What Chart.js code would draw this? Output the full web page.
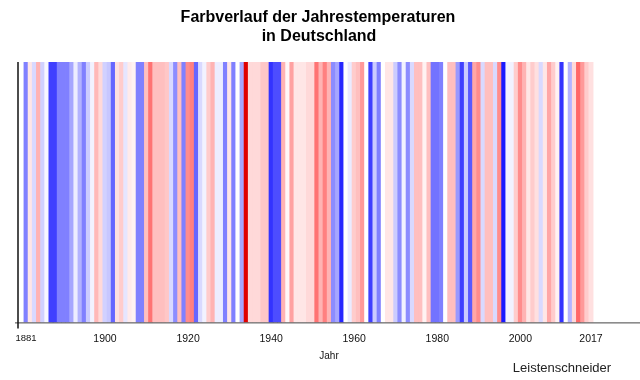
<!DOCTYPE html>
<html><head><meta charset="utf-8">
<script src="https://cdn.jsdelivr.net/npm/chart.js@4"></script>
<style>html,body{margin:0;padding:0;background:#fff}#wrap{width:640px;height:380px}</style>
</head><body><div id="wrap"><canvas id="c" width="640" height="380"></canvas></div>
<script>
const firstYear = 1881;
// Temperature anomaly (relative colour intensity) per year, read from the stripes
const anomalies = [
  -0.5, 0.1,-0.15, 0.3,-0.18,-0.03,-0.75,-0.75,-0.5,-0.5,          // 1881-1890
  -0.5,-0.35,-0.07,-0.3,-0.5,-0.2,-0.05, 0.28, 0.15,-0.18,          // 1891-1900
  -0.22,-0.6, 0.12, 0.2,-0.1, 0.08, 0.05,-0.5,-0.5, 0.25,           // 1901-1910
   0.55, 0.25, 0.25, 0.25, 0.22,-0.15,-0.45, 0.25,-0.5, 0.45,       // 1911-1920
   0.5,-0.6,-0.15,-0.05, 0.2, 0.3,-0.07,-0.07,-0.5, 0.1,            // 1921-1930
  -0.5, 0.0,-0.35, 1.12, 0.15, 0.15, 0.15, 0.22, 0.22,-0.8,         // 1931-1940
  -0.7,-0.7, 0.3, 0.03, 0.37, 0.1, 0.1, 0.1, 0.15, 0.15,            // 1941-1950
   0.55, 0.3, 0.5, 0.3,-0.45,-0.35,-0.85, 0.0,-0.08, 0.2,           // 1951-1960
   0.25, 0.4, 0.0,-0.75,-0.2,-0.5, 0.0, 0.1, 0.1,-0.2,              // 1961-1970
  -0.45,-0.05,-0.45,-0.15, 0.25, 0.25, 0.05, 0.25,-0.55,-0.55,      // 1971-1980
  -0.5, 0.0, 0.25, 0.25,-0.4,-0.75,-0.2,-0.65, 0.35, 0.45,          // 1981-1990
  -0.15, 0.25, 0.25,-0.15, 0.45,-0.9,-0.05,-0.05, 0.2, 0.45,        // 1991-2000
   0.3, 0.1, 0.2, 0.12,-0.15, 0.1, 0.35, 0.2, 0.05,-0.8,            // 2001-2010
   0.0,-0.3, 0.15, 0.6, 0.4, 0.2, 0.12                              // 2011-2017
];
const tickYears = [1881, 1900, 1920, 1940, 1960, 1980, 2000, 2017];
const titleLines = ['Farbverlauf der Jahrestemperaturen', 'in Deutschland'];
const axisTitle = 'Jahr';
const author = 'Leistenschneider';

function stripeColor(v) {
  if (v < 0) {
    const k = Math.round(255 * (1 + Math.max(v, -1)));
    return `rgb(${k},${k},255)`;
  }
  if (v <= 1) {
    const k = Math.round(255 * (1 - v));
    return `rgb(255,${k},${k})`;
  }
  const r = Math.round(255 * (2 - v));
  return `rgb(${r},0,0)`;
}

const points = anomalies.map((a, i) => ({ x: firstYear + i, y: 1 }));
const colors = anomalies.map(stripeColor);
const FONT = '"Liberation Sans", Arial, sans-serif';

const deco = {
  id: 'deco',
  afterDraw(chart) {
    const { ctx, chartArea: a } = chart;
    ctx.save();
    // x axis line slightly extended to the left
    ctx.strokeStyle = '#444';
    ctx.lineWidth = 1;
    ctx.beginPath();
    ctx.moveTo(a.left - 3, a.bottom + 0.5);
    ctx.lineTo(a.right, a.bottom + 0.5);
    ctx.stroke();
    // y axis line
    ctx.strokeStyle = '#111';
    ctx.lineWidth = 1.5;
    ctx.beginPath();
    ctx.moveTo(a.left, a.top);
    ctx.lineTo(a.left, a.bottom + 6);
    ctx.stroke();
    ctx.textAlign = 'center';
    ctx.textBaseline = 'middle';
    // title
    ctx.fillStyle = '#000';
    ctx.font = 'bold 16px ' + FONT;
    ctx.fillText(titleLines[0], 318, 18);
    ctx.fillText(titleLines[1], 319, 37);
    // axis title
    ctx.font = '10px ' + FONT;
    ctx.fillStyle = '#111';
    ctx.fillText(axisTitle, (a.left + a.right) / 2, 356);
    // author
    ctx.font = '13px ' + FONT;
    ctx.fillStyle = '#222';
    ctx.fillText(author, 562, 368);
    ctx.restore();
  }
};

new Chart(document.getElementById('c'), {
  type: 'bar',
  data: {
    datasets: [{
      data: points,
      backgroundColor: colors,
      borderWidth: 0,
      barPercentage: 1.0,
      categoryPercentage: 1.0,
      inflateAmount: 0.4
    }]
  },
  options: {
    responsive: false,
    animation: false,
    events: [],
    layout: { padding: { left: 18, right: 0, top: 62, bottom: 33 } },
    plugins: { legend: { display: false }, tooltip: { enabled: false }, title: { display: false } },
    scales: {
      x: {
        type: 'linear',
        min: 1879.06,
        max: 2028.8,
        offset: false,
        grid: { display: false },
        border: { display: false },
        afterBuildTicks: (scale) => { scale.ticks = tickYears.map(v => ({ value: v })); },
        ticks: {
          autoSkip: false,
          maxRotation: 0,
          padding: 2,
          color: '#111',
          font: (ctx) => ({ family: FONT, size: (ctx.tick && ctx.tick.value === 1881) ? 9.5 : 10.5 }),
          callback: (v) => String(v)
        }
      },
      y: { display: false, min: 0, max: 1 }
    }
  },
  plugins: [deco]
});
</script></body></html>
